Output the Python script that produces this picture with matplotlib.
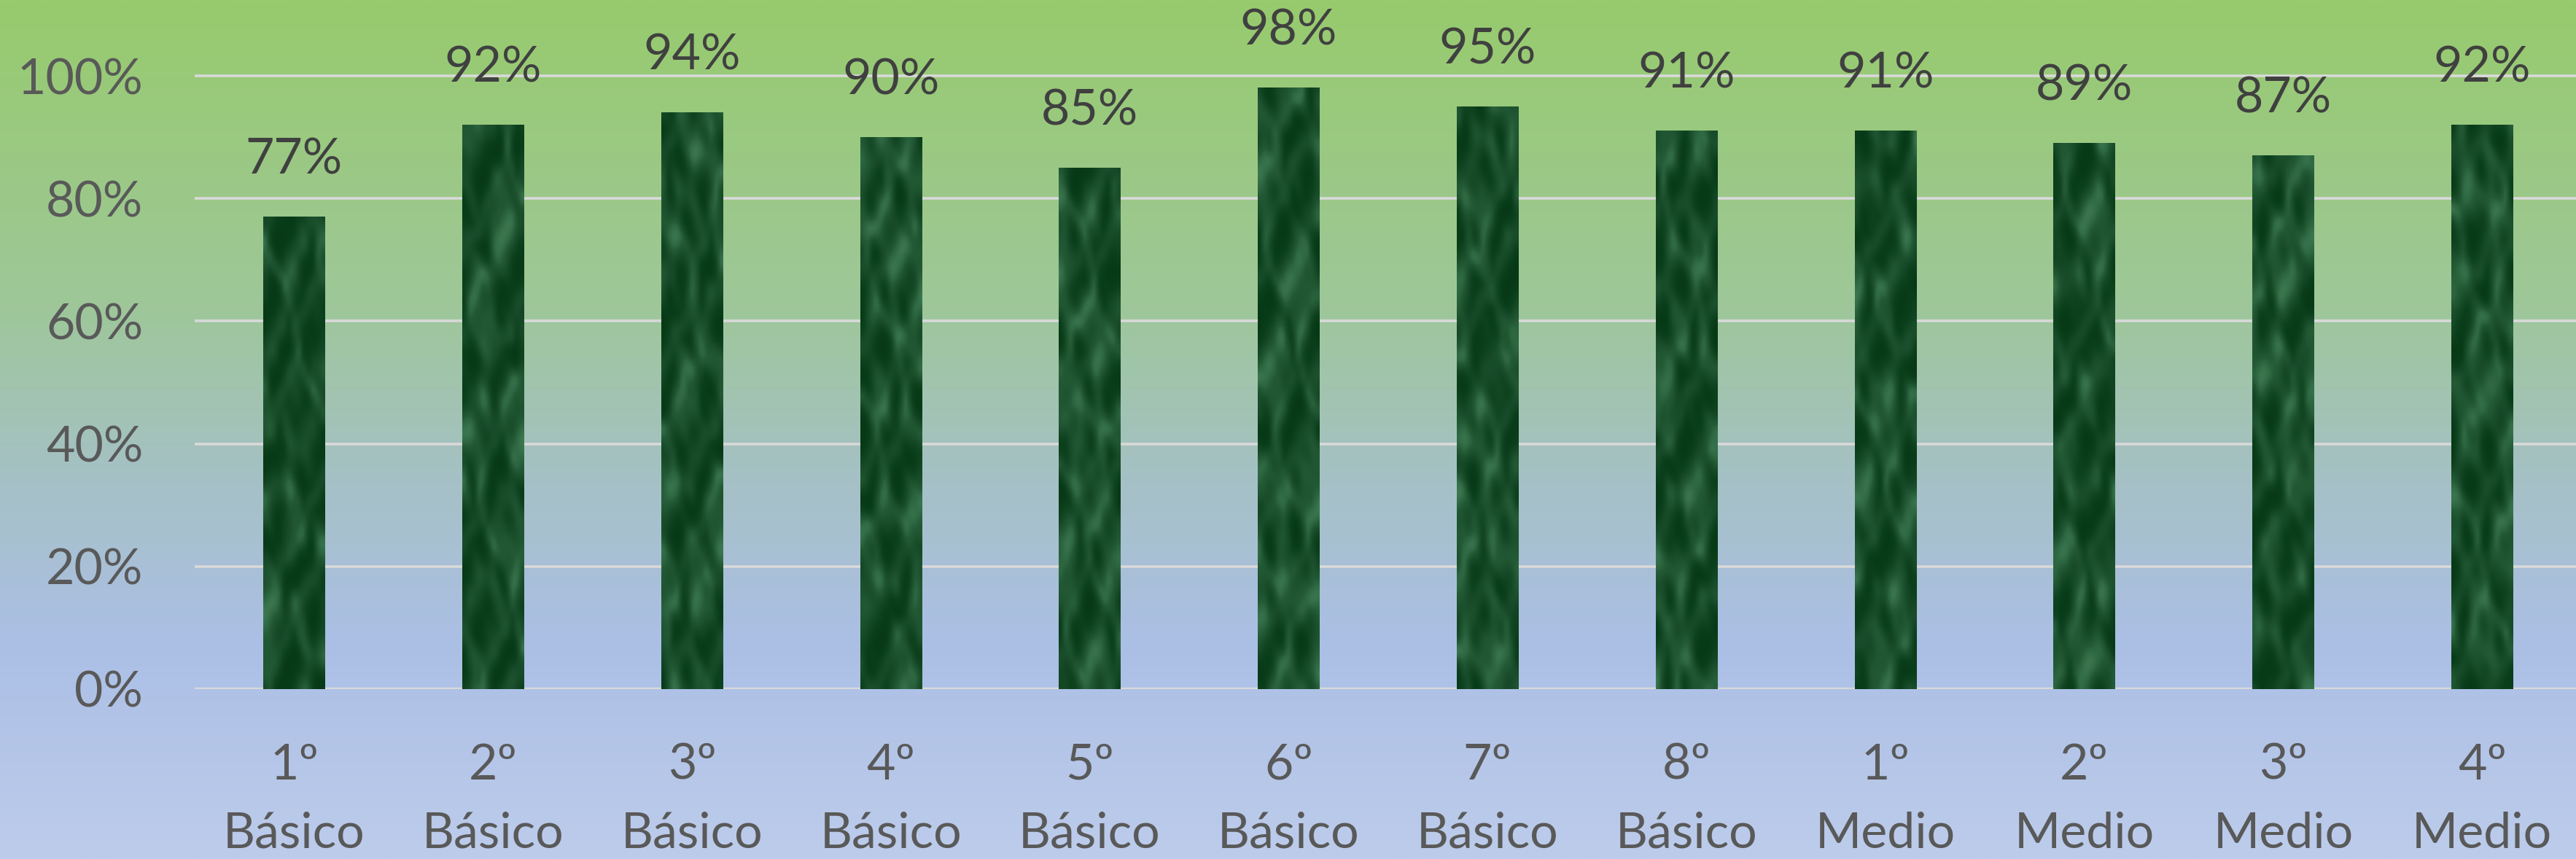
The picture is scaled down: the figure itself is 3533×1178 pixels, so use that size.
import numpy as np
import matplotlib
matplotlib.use('Agg')
import matplotlib.pyplot as plt
from matplotlib.colors import LinearSegmentedColormap
from matplotlib.ticker import FixedLocator

grades = ['1º', '2º', '3º', '4º', '5º', '6º', '7º', '8º', '1º', '2º', '3º', '4º']
levels = ['Básico'] * 8 + ['Medio'] * 4
values = [77, 92, 94, 90, 85, 98, 95, 91, 91, 89, 87, 92]
yticks = [0, 20, 40, 60, 80, 100]

W, H, DPI = 3533, 1178, 100
plt.rcParams['font.family'] = ['Lato', 'DejaVu Sans']

fig = plt.figure(figsize=(W / DPI, H / DPI), dpi=DPI)

# background gradient (green at top, light blue at bottom)
bg = fig.add_axes([0, 0, 1, 1], zorder=0)
bg_cmap = LinearSegmentedColormap.from_list('bg', [
    (0.0, '#97cb6d'), (0.35, '#9ec798'), (0.55, '#a5c1c4'),
    (0.75, '#abbfe5'), (1.0, '#bdcceb')])
grad = np.linspace(0, 1, 512).reshape(-1, 1)
bg.imshow(grad, aspect='auto', cmap=bg_cmap, extent=[0, 1, 0, 1], origin='upper')
bg.set_axis_off()

# main axes: 0% at y=945 px, 100% at y=104 px
bottom = 1 - 945 / H
ax = fig.add_axes([267 / W, bottom, 1 - 267 / W, 1 - bottom], zorder=1)
ax.patch.set_alpha(0)
slot = 272.8

for s in ax.spines.values():
    s.set_visible(False)
ax.yaxis.set_major_locator(FixedLocator([t / 100 for t in yticks]))
ax.set_yticklabels([f'{t}%' for t in yticks])
ax.tick_params(axis='y', length=0, pad=51, labelsize=49, labelcolor='#595959')
ax.set_xticks([])
ax.grid(axis='y', color='#d9d9d9', linewidth=2.6, zorder=1)
ax.axhline(0, color='#d9d9d9', linewidth=3.2, zorder=1)

# marble-like texture for the bars
marble = LinearSegmentedColormap.from_list('marble', [
    '#013010', '#0b3f1b', '#184b29', '#235a35', '#35704a', '#4f8a61'])
bw = 0.31
for i, v in enumerate(values):
    h = v / 100
    ny, nx = int(h * 841 / 7), 13
    yy, xx = np.mgrid[0:ny, 0:nx].astype(float)
    yy += i * 37
    turb = (np.sin(xx * 0.7 + yy * 0.21 + i) * 0.9
            + np.sin(xx * 0.45 - yy * 0.13 + 2 * i) * 1.2
            + np.sin(yy * 0.07 + xx * 0.2) * 1.5
            + np.sin(xx * 1.3 + yy * 0.43 + 3 * i) * 0.5)
    tex = 0.5 + 0.5 * np.sin(yy * 0.09 + xx * 0.3 + turb * 1.3)
    blot = 0.5 + 0.5 * np.sin(xx * 0.9 - yy * 0.35 + 0.7 * turb)
    tex = 0.12 + 0.45 * tex ** 1.6 + 0.3 * blot ** 2
    ax.imshow(tex, cmap=marble, vmin=0, vmax=1, aspect='auto', origin='lower',
              extent=[i - bw / 2, i + bw / 2, 0, h], zorder=3,
              interpolation='bicubic')
    ax.text(i, h + 0.070, f'{v}%', ha='center', va='baseline',
            fontsize=49, color='#404040', zorder=4, clip_on=False)
    ax.text(i, -0.1474, grades[i], ha='center', va='baseline',
            fontsize=49, color='#595959', clip_on=False)
    ax.text(i, -0.2592, levels[i], ha='center', va='baseline',
            fontsize=49, color='#595959', clip_on=False)

ax.set_xlim(-0.5, -0.5 + (W - 267) / slot)
ax.set_ylim(0, 945 / 841)

fig.savefig('out.png', dpi=DPI)
